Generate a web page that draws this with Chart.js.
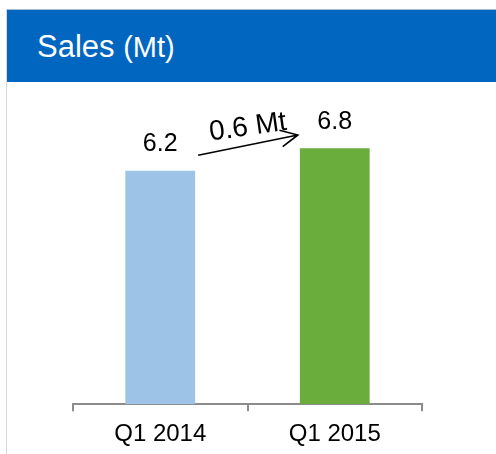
<!DOCTYPE html>
<html lang="en">
<head>
    <meta charset="UTF-8">
    <title>Sales (Mt)</title>
    <script src="https://cdn.jsdelivr.net/npm/chart.js"></script>
    <style>
        html, body { margin: 0; padding: 0; background: #fff; }
        body { width: 496px; height: 454px; position: relative; overflow: hidden; font-family: "Liberation Sans", Arial, sans-serif; }
        .frame { position: absolute; left: 6px; top: 9px; width: 490px; height: 445px; border-left: 1px solid #d9d9d9; border-top: 1px solid #a9bcd6; }
        .header { position: absolute; left: 7px; top: 10px; width: 489px; height: 72px; background: #0066bf; color: #fff; }
        .header span { position: absolute; left: 30px; top: 19px; font-size: 31px; line-height: 36px; white-space: nowrap; }
        .header small { font-size: 29px; }
        .chart-box { position: absolute; left: 8px; top: 82px; width: 488px; height: 384px; }
    </style>
</head>
<body>
    <div class="frame"></div>
    <div class="header"><span>Sales <small>(Mt)</small></span></div>
    <div class="chart-box">
        <canvas id="salesChart"></canvas>
    </div>

    <script>
        // Chart data
        const categories = ['Q1 2014', 'Q1 2015'];
        const sales = [6.2, 6.8];
        const barColors = ['#9dc3e6', '#6aad3d'];
        const deltaLabel = '0.6 Mt';

        // value labels above bars + arrow between them
        const annotations = {
            id: 'annotations',
            afterDatasetsDraw(chart) {
                const ctx = chart.ctx;
                const meta = chart.getDatasetMeta(0);
                const y = chart.scales.y;
                ctx.save();
                ctx.fillStyle = '#000';
                ctx.font = '25px "Liberation Sans", Arial, sans-serif';
                ctx.textAlign = 'center';
                ctx.textBaseline = 'bottom';
                meta.data.forEach((bar, i) => {
                    ctx.fillText(sales[i].toFixed(1), bar.x, bar.y - 14);
                });

                // arrow from first bar to second
                const b0 = meta.data[0], b1 = meta.data[1];
                const x0 = b0.x + b0.width / 2 + 3;
                const y0 = y.getPixelForValue(sales[0] + 0.41);
                const x1 = b1.x - b1.width / 2 - 2;
                const y1 = y.getPixelForValue(sales[1] + 0.35);
                ctx.strokeStyle = '#000';
                ctx.lineWidth = 1.6;
                ctx.beginPath();
                ctx.moveTo(x0, y0);
                ctx.lineTo(x1, y1);
                const ang = Math.atan2(y1 - y0, x1 - x0);
                const head = 19;
                ctx.moveTo(x1 - head * Math.cos(ang - 0.45), y1 - head * Math.sin(ang - 0.45));
                ctx.lineTo(x1, y1);
                ctx.lineTo(x1 - head * Math.cos(ang + 0.45), y1 - head * Math.sin(ang + 0.45));
                ctx.stroke();

                // rotated delta text
                ctx.font = '28px "Liberation Sans", Arial, sans-serif';
                ctx.textBaseline = 'alphabetic';
                ctx.translate((x0 + x1) / 2 + 1, (y0 + y1) / 2 - 10);
                ctx.rotate(-0.14);
                ctx.fillText(deltaLabel, 0, 0);
                ctx.restore();
            }
        };

        new Chart(document.getElementById('salesChart'), {
            type: 'bar',
            data: {
                labels: categories,
                datasets: [{
                    data: sales,
                    backgroundColor: barColors,
                    borderWidth: 0,
                    barPercentage: 0.4,
                    categoryPercentage: 1.0
                }]
            },
            options: {
                responsive: true,
                maintainAspectRatio: false,
                animation: false,
                layout: {
                    padding: { left: 65, right: 74, top: 21, bottom: 8 }
                },
                plugins: {
                    legend: { display: false },
                    tooltip: { enabled: false }
                },
                scales: {
                    y: {
                        display: false,
                        min: 0,
                        max: 8
                    },
                    x: {
                        border: { display: true, color: '#8c8c8c', width: 2 },
                        grid: {
                            drawOnChartArea: false,
                            drawTicks: true,
                            tickLength: 7,
                            color: '#8c8c8c',
                            lineWidth: 2
                        },
                        ticks: {
                            color: '#000',
                            padding: 9,
                            font: { family: '"Liberation Sans", Arial, sans-serif', size: 24 }
                        }
                    }
                }
            },
            plugins: [annotations]
        });
    </script>
</body>
</html>
